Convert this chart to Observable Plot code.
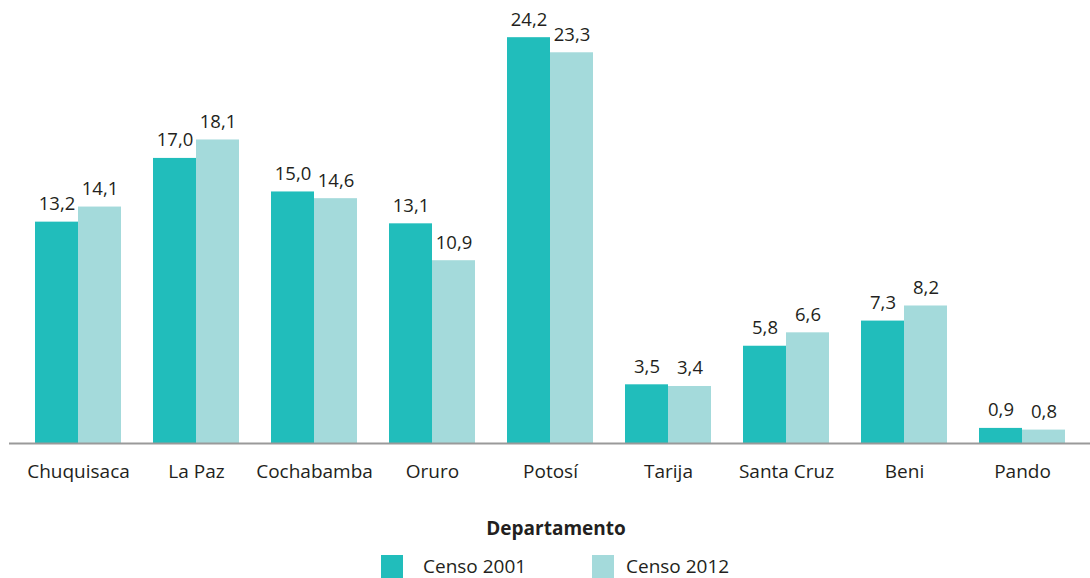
<!DOCTYPE html>
<html>
<head>
<meta charset="utf-8">
<script src="https://cdn.jsdelivr.net/npm/d3@7"></script>
<script src="https://cdn.jsdelivr.net/npm/@observablehq/plot@0.6"></script>
<style>
  body { margin: 0; background: #fff; position: relative; width: 1090px; height: 578px; overflow: hidden; font-family: "Open Sans", sans-serif; color: #231F20; }
  #chart svg { display: block; }
  .xlabel { position: absolute; left: 0; width: 1112px; top: 517px; line-height: 22px; text-align: center; font-weight: bold; font-size: 19px; }
  .sw { position: absolute; top: 555px; width: 22px; height: 23px; }
  .lt { position: absolute; top: 556px; line-height: 20px; font-size: 19px; white-space: nowrap; }
</style>
</head>
<body>
<div id="chart"></div>
<div class="xlabel">Departamento</div>
<div id="legend"></div>
<script>
const departamentos = ["Chuquisaca", "La Paz", "Cochabamba", "Oruro", "Potosí", "Tarija", "Santa Cruz", "Beni", "Pando"];
const censo2001 = [13.2, 17.0, 15.0, 13.1, 24.2, 3.5, 5.8, 7.3, 0.9];
const censo2012 = [14.1, 18.1, 14.6, 10.9, 23.3, 3.4, 6.6, 8.2, 0.8];
const series = ["Censo 2001", "Censo 2012"];
const colors = ["#21BDBB", "#A4DADB"];

const rows2001 = departamentos.map((d, i) => ({dep: d, value: censo2001[i]}));
const rows2012 = departamentos.map((d, i) => ({dep: d, value: censo2012[i]}));
const fmt = d => d.value.toFixed(1).replace(".", ",");

const chart = Plot.plot({
  width: 1090,
  height: 500,
  marginLeft: 9,
  marginRight: 0,
  marginTop: 7,
  marginBottom: 57,
  style: {fontFamily: "Open Sans", fontSize: "18px", color: "#231F20", background: "#fff"},
  x: {domain: departamentos, paddingInner: 0.2735, paddingOuter: 0.2027, label: null},
  y: {domain: [0, 26], axis: null},
  marks: [
    Plot.barY(rows2001, {x: "dep", y: "value", fill: colors[0], insetRight: 43}),
    Plot.barY(rows2012, {x: "dep", y: "value", fill: colors[1], insetLeft: 43}),
    Plot.ruleY([0], {stroke: "#9a9a9a", strokeWidth: 2}),
    Plot.text(rows2001, {x: "dep", y: "value", text: fmt, dx: -21.5, dy: -18, lineAnchor: "middle", fontSize: 18.5, fill: "#231F20"}),
    Plot.text(rows2012, {x: "dep", y: "value", text: fmt, dx: 21.5, dy: -18, lineAnchor: "middle", fontSize: 18.5, fill: "#231F20"}),
    Plot.axisX({tickSize: 0, tickPadding: 21, fontSize: 19, label: null, fill: "#231F20"})
  ]
});
document.getElementById("chart").appendChild(chart);

const legend = document.getElementById("legend");
const swX = [381, 592];
const txX = [423, 626];
series.forEach((s, i) => {
  const sw = document.createElement("div");
  sw.className = "sw";
  sw.style.left = swX[i] + "px";
  sw.style.background = colors[i];
  legend.appendChild(sw);
  const t = document.createElement("div");
  t.className = "lt";
  t.style.left = txX[i] + "px";
  t.textContent = s;
  legend.appendChild(t);
});
</script>
</body>
</html>
